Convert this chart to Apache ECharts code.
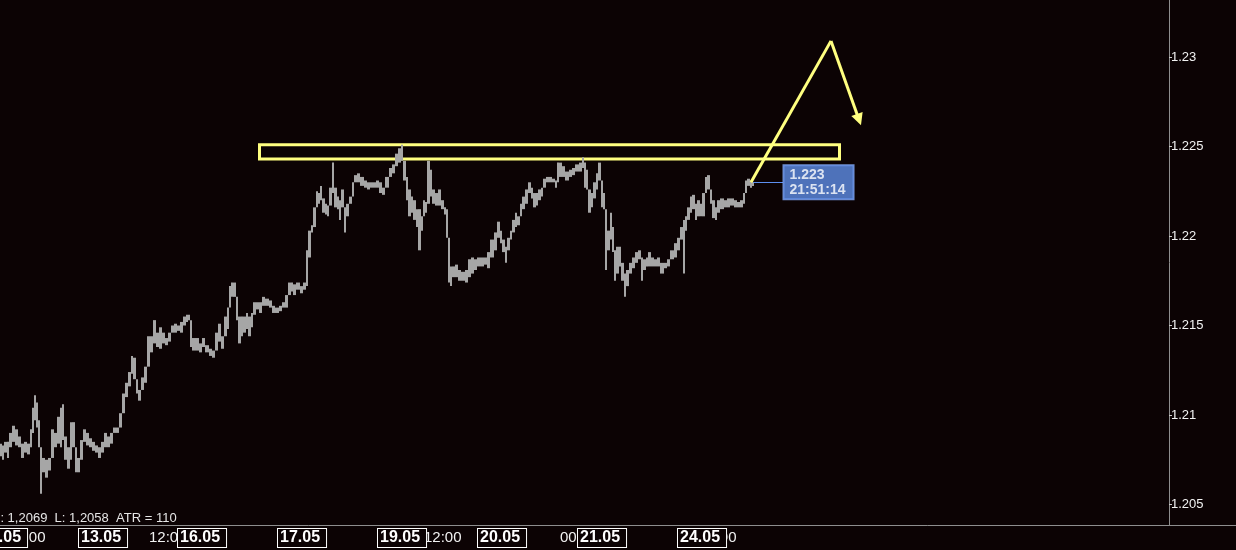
<!DOCTYPE html>
<html><head><meta charset="utf-8">
<script src="https://cdn.jsdelivr.net/npm/echarts@6/dist/echarts.min.js"></script>
<style>html,body{margin:0;padding:0;background:#0c0304;}#c{width:1236px;height:550px;}</style>
</head><body><div id="c"></div>
<script>
// time slots (one unit per chart column) and bar high/low prices
const barTime=[0,3,5,8,10,13,16,19,22,25,28,31,33,35,37,39,41,43,46,49,52,55,58,61,63,65,68,71,73,76,78,81,84,87,90,93,96,99,102,105,108,111,114,117,120,123,126,129,132,134,137,139,142,145,148,151,154,157,160,163,166,169,172,175,178,181,184,187,189,
191,193,197,200,203,207,210,213,217,219,222,225,228,230,232,234,237,239,242,244,247,249,252,254,257,260,263,267,270,273,277,280,283,286,289,292,294,298,301,304,307,309,312,314,317,319,321,323,326,328,330,333,335,338,340,342,345,347,350,353,355,358,362,365,368,372,374,
377,380,383,387,390,393,397,399,402,404,407,409,412,414,417,419,422,423,426,428,431,433,437,439,442,445,447,449,451,453,456,459,463,466,469,472,475,478,482,485,488,492,495,498,501,503,506,508,511,513,516,518,521,523,526,529,532,534,537,539,542,544,547,550,553,556,558,
560,563,567,570,573,577,580,583,585,587,589,592,594,597,599,602,604,606,608,611,613,615,617,620,622,625,627,630,633,637,639,642,644,647,649,652,655,658,662,665,668,672,675,678,682,684,686,688,691,693,696,698,701,703,706,708,711,713,716,718,722,725,728,732,735,738,742,744,746,748,751,753];
const barHigh=[
1.2084,1.2083,1.2085,1.2085,1.2090,1.2094,1.2092,1.2088,1.2084,1.2085,
1.2084,1.2092,1.2104,1.2111,1.2107,1.2097,1.2079,1.2076,1.2075,1.2076,
1.2092,1.2090,1.2099,1.2104,1.2106,1.2088,1.2082,1.2096,1.2096,1.2080,
1.2076,1.2086,1.2092,1.2090,1.2087,1.2085,1.2083,1.2082,1.2085,1.2090,
1.2088,1.2090,1.2093,1.2093,1.2101,1.2112,1.2118,1.2124,1.2133,1.2132,
1.2118,1.2114,1.2121,1.2127,1.2144,1.2144,1.2153,1.2146,1.2149,1.2146,
1.2143,1.2146,1.2150,1.2151,1.2150,1.2152,1.2155,1.2156,1.2156,
1.2147,1.2143,1.2143,1.2140,1.2143,1.2139,1.2137,1.2136,1.2146,1.2151,
1.2144,1.2155,1.2160,1.2172,1.2174,1.2174,1.2166,1.2155,1.2155,1.2155,
1.2157,1.2155,1.2157,1.2163,1.2163,1.2163,1.2166,1.2165,1.2164,1.2161,
1.2160,1.2161,1.2163,1.2167,1.2174,1.2174,1.2173,1.2174,1.2172,1.2174,
1.2192,1.2203,1.2206,1.2216,1.2225,1.2224,1.2228,1.2221,1.2218,1.2217,
1.2227,1.2241,1.2227,1.2222,1.2220,1.2226,1.2213,1.2218,1.2222,1.2230,
1.2234,1.2235,1.2233,1.2231,1.2230,1.2230,1.2230,
1.2231,1.2230,1.2227,1.2233,1.2238,1.2240,1.2246,1.2249,1.2251,1.2242,
1.2233,1.2226,1.2222,1.2220,1.2215,1.2215,1.2211,1.2220,1.2219,1.2242,
1.2237,1.2226,1.2224,1.2226,1.2220,1.2216,1.2215,1.2185,1.2183,1.2183,
1.2184,1.2181,1.2180,1.2181,1.2187,1.2188,1.2187,1.2188,1.2188,1.2188,
1.2191,1.2198,1.2202,1.2208,1.2203,1.2198,1.2194,1.2199,1.2203,1.2209,
1.2213,1.2211,1.2218,1.2222,1.2226,1.2230,1.2227,1.2224,1.2224,1.2226,
1.2227,1.2232,1.2233,1.2233,1.2232,1.2231,1.2241,
1.2241,1.2239,1.2236,1.2237,1.2238,1.2240,1.2241,1.2244,1.2241,1.2237,
1.2226,1.2224,1.2230,1.2235,1.2241,1.2226,1.2224,1.2213,1.2203,1.2213,
1.2205,1.2192,1.2194,1.2194,1.2185,1.2179,1.2181,1.2185,1.2188,1.2191,
1.2192,1.2188,1.2187,1.2188,1.2191,1.2188,1.2187,1.2188,1.2185,1.2185,
1.2187,1.2192,1.2196,1.2199,1.2205,1.2209,1.2211,1.2216,1.2222,1.2223,
1.2218,1.2220,1.2218,1.2224,1.2233,1.2234,1.2226,1.2220,1.2216,1.2220,
1.2221,1.2220,1.2221,1.2221,1.2220,1.2219,1.2220,1.2224,1.2231,1.2232,
1.2231,1.2230];
const barLow=[
1.2077,1.2075,1.2079,1.2076,1.2082,1.2085,1.2083,1.2082,1.2076,1.2079,
1.2078,1.2082,1.2090,1.2097,1.2093,1.2082,1.2056,1.2068,1.2065,1.2069,
1.2079,1.2082,1.2084,1.2082,1.2086,1.2075,1.2070,1.2075,1.2082,1.2068,
1.2068,1.2075,1.2085,1.2083,1.2082,1.2080,1.2079,1.2076,1.2079,1.2082,
1.2082,1.2084,1.2090,1.2090,1.2093,1.2101,1.2110,1.2116,1.2123,1.2120,
1.2112,1.2108,1.2114,1.2118,1.2127,1.2135,1.2140,1.2138,1.2137,1.2140,
1.2139,1.2141,1.2146,1.2146,1.2147,1.2146,1.2150,1.2152,1.2153,
1.2138,1.2136,1.2136,1.2135,1.2138,1.2135,1.2133,1.2132,1.2136,1.2141,
1.2137,1.2144,1.2148,1.2160,1.2166,1.2166,1.2153,1.2140,1.2144,1.2146,
1.2148,1.2144,1.2149,1.2156,1.2159,1.2157,1.2161,1.2161,1.2160,1.2157,
1.2157,1.2158,1.2160,1.2160,1.2167,1.2169,1.2167,1.2170,1.2168,1.2170,
1.2172,1.2188,1.2202,1.2205,1.2216,1.2218,1.2220,1.2213,1.2212,1.2211,
1.2221,1.2224,1.2216,1.2215,1.2209,1.2216,1.2202,1.2211,1.2218,1.2222,
1.2230,1.2230,1.2228,1.2227,1.2226,1.2227,1.2227,
1.2227,1.2224,1.2223,1.2227,1.2233,1.2235,1.2239,1.2241,1.2242,1.2231,
1.2220,1.2211,1.2213,1.2209,1.2205,1.2192,1.2203,1.2213,1.2213,1.2218,
1.2222,1.2218,1.2217,1.2217,1.2215,1.2212,1.2199,1.2174,1.2172,1.2177,
1.2177,1.2175,1.2175,1.2174,1.2177,1.2179,1.2181,1.2183,1.2183,1.2184,
1.2182,1.2188,1.2192,1.2199,1.2196,1.2191,1.2185,1.2192,1.2198,1.2202,
1.2205,1.2206,1.2211,1.2215,1.2218,1.2224,1.2221,1.2216,1.2217,1.2220,
1.2222,1.2227,1.2230,1.2230,1.2230,1.2227,1.2230,
1.2233,1.2233,1.2231,1.2233,1.2234,1.2236,1.2236,1.2238,1.2227,1.2226,
1.2213,1.2216,1.2221,1.2226,1.2231,1.2216,1.2215,1.2181,1.2192,1.2198,
1.2191,1.2175,1.2179,1.2183,1.2175,1.2166,1.2172,1.2179,1.2182,1.2185,
1.2187,1.2175,1.2181,1.2183,1.2183,1.2183,1.2183,1.2183,1.2179,1.2182,
1.2183,1.2187,1.2188,1.2192,1.2198,1.2179,1.2203,1.2209,1.2213,1.2215,
1.2209,1.2211,1.2211,1.2211,1.2224,1.2226,1.2218,1.2210,1.2209,1.2213,
1.2215,1.2216,1.2216,1.2217,1.2216,1.2216,1.2216,1.2218,1.2224,1.2228,
1.2227,1.2228];
const yTickValues=[1.205,1.21,1.215,1.22,1.225,1.23];
const yTickLabels=['1.205','1.21','1.215','1.22','1.225','1.23'];
const firstDateLabel='12.05';
const dateTickTimes=[79,178,278,378,478,578,678];
const dateTickLabels=['13.05','16.05','17.05','19.05','20.05','21.05','24.05'];
const timeTickTimes=[8,149,424,560,699];
const timeTickLabels=['12:00','12:00','12:00','00:00','12:00'];
const zoneTime=[259.5,839.5];
const zonePrice=[1.2251,1.2243];
const projUp=[[751,1.2230],[831,1.2309]];
const projDown=[[831,1.2309],[859,1.2265]];
const lastTime=753, lastPrice=1.2230, lastClock='21:51:14', tagTime=783;
const infoText='H: 1,2069  L: 1,2058  ATR = 110';

const BG='#0c0304', FONT='"Liberation Sans", Arial, sans-serif';
const chart=echarts.init(document.getElementById('c'),null,{renderer:'canvas'});
const bars=barTime.map((t,i)=>[t,barHigh[i],barLow[i]]);
chart.setOption({
  backgroundColor:BG,
  animation:false,
  grid:{left:0,right:0,top:0,bottom:25},
  xAxis:[{
    type:'value',min:0,max:1236,position:'bottom',
    axisLine:{show:true,onZero:false,lineStyle:{color:'#8e8e8e',width:1}},
    axisTick:{show:false},splitLine:{show:false},
    axisLabel:{customValues:timeTickTimes,formatter:v=>timeTickLabels[timeTickTimes.indexOf(v)],
      align:'left',color:'#f2f2f2',fontSize:15,fontFamily:FONT,margin:3,lineHeight:19,hideOverlap:false}
  },{
    type:'value',min:0,max:1236,position:'bottom',z:5,
    axisLine:{show:false,onZero:false},axisTick:{show:false},splitLine:{show:false},
    axisLabel:{customValues:dateTickTimes,formatter:v=>dateTickLabels[dateTickTimes.indexOf(v)],
      align:'left',color:'#ffffff',fontSize:16,fontWeight:'bold',fontFamily:FONT,margin:4,lineHeight:16,
      backgroundColor:BG,borderColor:'#ffffff',borderWidth:1,padding:[1,6,1,2],hideOverlap:false}
  }],
  yAxis:{
    type:'value',position:'right',offset:-67,min:1.203855,max:1.233184,
    axisLine:{show:true,onZero:false,lineStyle:{color:'#8e8e8e',width:1}},
    axisTick:{show:true,length:3,customValues:yTickValues,lineStyle:{color:'#cccccc'}},
    splitLine:{show:false},
    axisLabel:{customValues:yTickValues,formatter:v=>yTickLabels[yTickValues.indexOf(v)]||'',
      color:'#f2f2f2',fontSize:13,fontFamily:FONT,margin:2}
  },
  series:[{
    type:'custom',xAxisIndex:0,data:bars,
    renderItem:(params,api)=>{
      const i=params.dataIndex;
      const t=api.value(0);
      let hi=api.value(1), lo=api.value(2);
      // join each bar to the previous one so the ribbon stays continuous
      if(i>0){
        if(lo>barHigh[i-1]) lo=barHigh[i-1];
        if(hi<barLow[i-1]) hi=barLow[i-1];
      }
      const prevT=i>0?barTime[i-1]:t-1.5;
      const nextT=i<barTime.length-1?barTime[i+1]:t+1.5;
      const x0=api.coord([(prevT+t)/2,0])[0];
      const x1=api.coord([(nextT+t)/2,0])[0];
      const top=api.coord([t,hi]);
      const bot=api.coord([t,lo]);
      return {type:'rect',shape:{x:Math.round(x0),y:top[1],width:Math.max(1,Math.round(x1)-Math.round(x0)),height:Math.max(1,bot[1]-top[1])},
        style:{fill:'#a6a6a6'}};
    },
    markArea:{silent:true,itemStyle:{color:'rgba(0,0,0,0)',borderColor:'#ffff80',borderWidth:3},
      data:[[{coord:[zoneTime[0],zonePrice[0]]},{coord:[zoneTime[1],zonePrice[1]]}]]}
  },{
    type:'lines',coordinateSystem:'cartesian2d',xAxisIndex:0,symbol:['none','none'],
    lineStyle:{color:'#ffff80',width:3,opacity:1},
    data:[{coords:projUp}]
  },{
    type:'lines',coordinateSystem:'cartesian2d',xAxisIndex:0,symbol:['none','triangle'],symbolSize:12,
    lineStyle:{color:'#ffff80',width:3,opacity:1},
    data:[{coords:projDown}]
  },{
    type:'lines',coordinateSystem:'cartesian2d',xAxisIndex:0,symbol:['none','none'],
    lineStyle:{color:'#5d8ff0',width:1,opacity:1},
    data:[{coords:[[lastTime,lastPrice],[tagTime,lastPrice]]}]
  },{
    type:'scatter',xAxisIndex:0,symbolSize:1,itemStyle:{color:'rgba(0,0,0,0)'},
    data:[[lastTime,lastPrice]],
    label:{show:true,position:'right',distance:tagTime-lastTime,
      formatter:()=>lastPrice.toFixed(3)+'\n'+lastClock,
      color:'#ffffff',fontSize:14,fontWeight:'bold',fontFamily:FONT,lineHeight:15,
      backgroundColor:'#5f8fe8',borderColor:'#8ab0ff',borderWidth:1,padding:[2,8,2,6],align:'left'}
  }],
  graphic:[{type:'text',x:-9,y:518,z:10,
    style:{text:infoText,fill:'#e6e6e6',font:'13px '+FONT,verticalAlign:'middle',textVerticalAlign:'middle'}},
    {type:'text',x:-21,y:529,z:20,
    style:{text:firstDateLabel,fill:'#ffffff',font:'bold 16px '+FONT,verticalAlign:'top',textVerticalAlign:'top',
      backgroundColor:BG,borderColor:'#ffffff',borderWidth:1,padding:[1,6,1,2],lineHeight:16}}]
});
</script></body></html>
